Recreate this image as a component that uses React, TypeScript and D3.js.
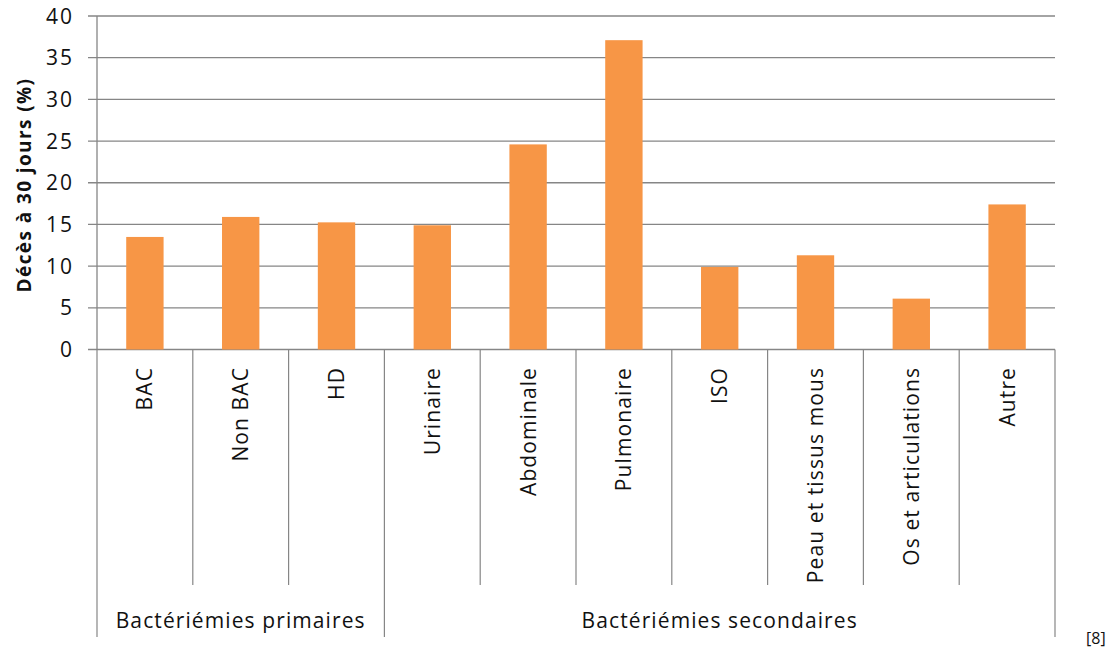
import React from "react";
import * as d3 from "d3";

const categories = ["BAC", "Non BAC", "HD", "Urinaire", "Abdominale", "Pulmonaire", "ISO", "Peau et tissus mous", "Os et articulations", "Autre"];
const values = [13.5, 15.9, 15.25, 14.9, 24.6, 37.1, 9.9, 11.3, 6.1, 17.4];
const groups = [
  { name: "Bactériémies primaires", start: 0, end: 3 },
  { name: "Bactériémies secondaires", start: 3, end: 10 },
];
const yTicks = [0, 5, 10, 15, 20, 25, 30, 35, 40];
const yLabel = "Décès à 30 jours (%)";
const note = "[8]";

const W = 1116, H = 651;
const left = 97, right = 1055, top = 16, bottom = 349.5;
const font = "'Open Sans', sans-serif";

export default function App() {
  const x = d3.scaleBand<string>().domain(categories).range([left, right]).paddingInner(0).paddingOuter(0);
  const y = d3.scaleLinear().domain([0, 40]).range([bottom, top]);
  const bw = x.bandwidth() * 0.39;
  const grid = "#868686";
  const boundaryX = (i: number) => left + i * x.step();
  const groupEdges = new Set<number>();
  groups.forEach(g => { groupEdges.add(g.start); groupEdges.add(g.end); });
  return (
    <svg width={W} height={H} style={{ position: "absolute", left: 0, top: 0, background: "#fff" }}>
      {yTicks.map(t => (
        <g key={t}>
          <line x1={left - 9} x2={right} y1={y(t)} y2={y(t)} stroke={grid} strokeWidth={1.3} />
          <text x={74} y={y(t)} dy="0.36em" textAnchor="end" fontFamily={font} fontSize={21} letterSpacing={2} fill="#111">{t}</text>
        </g>
      ))}
      <line x1={left} x2={left} y1={top} y2={bottom} stroke={grid} strokeWidth={1.3} />
      {categories.map((c, i) => (
        <rect key={c} x={x(c)! + (x.bandwidth() - bw) / 2} width={bw} y={y(values[i])} height={y(0) - y(values[i])} fill="#F79646" />
      ))}
      {d3.range(categories.length + 1).map(i => (
        <line key={i} x1={boundaryX(i)} x2={boundaryX(i)} y1={bottom} y2={groupEdges.has(i) ? 637 : 585} stroke={grid} strokeWidth={1.2} />
      ))}
      {categories.map(c => (
        <text key={c} transform={`translate(${x(c)! + x.bandwidth() / 2},367) rotate(-90)`} textAnchor="end" dy="0.36em" fontFamily={font} fontSize={21} letterSpacing={1.1} fill="#111">{c}</text>
      ))}
      {groups.map(g => (
        <text key={g.name} x={(boundaryX(g.start) + boundaryX(g.end)) / 2} y={628} textAnchor="middle" fontFamily={font} fontSize={21} letterSpacing={1.1} fill="#111">{g.name}</text>
      ))}
      <text transform={`translate(24,185) rotate(-90)`} textAnchor="middle" dy="0.36em" fontFamily={font} fontWeight="bold" fontSize={19} letterSpacing={1.4} fill="#111">{yLabel}</text>
      <text x={1086} y={644} fontFamily={font} fontSize={16} fill="#111">{note}</text>
    </svg>
  );
}
